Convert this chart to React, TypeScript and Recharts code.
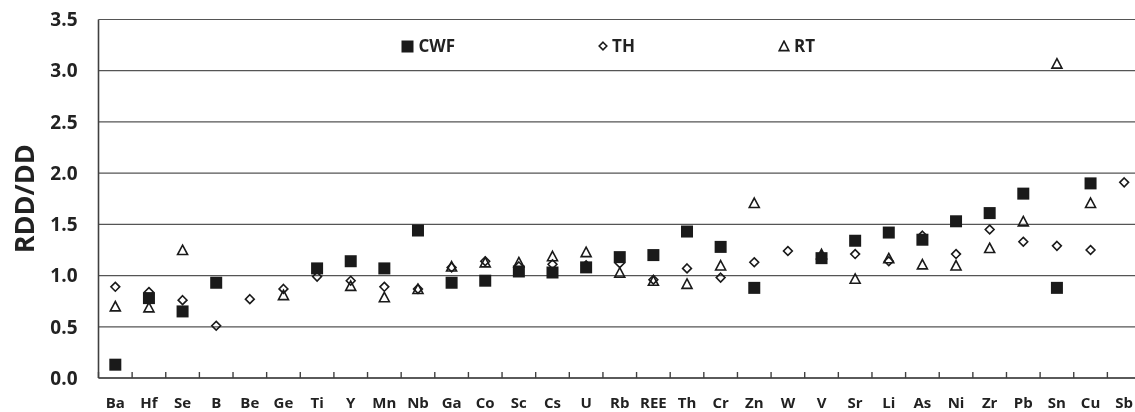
import React from 'react';
import { ScatterChart, Scatter, XAxis, YAxis, CartesianGrid, Legend } from 'recharts';

const categories = ['Ba', 'Hf', 'Se', 'B', 'Be', 'Ge', 'Ti', 'Y', 'Mn', 'Nb', 'Ga', 'Co', 'Sc', 'Cs', 'U', 'Rb', 'REE', 'Th', 'Cr', 'Zn', 'W', 'V', 'Sr', 'Li', 'As', 'Ni', 'Zr', 'Pb', 'Sn', 'Cu', 'Sb'];

const cwfValues: (number | null)[] = [0.13, 0.78, 0.65, 0.93, null, null, 1.07, 1.14, 1.07, 1.44, 0.93, 0.95, 1.04, 1.03, 1.08, 1.18, 1.2, 1.43, 1.28, 0.88, null, 1.17, 1.34, 1.42, 1.35, 1.53, 1.61, 1.8, 0.88, 1.9, null];
const thValues: (number | null)[] = [0.89, 0.84, 0.76, 0.51, 0.77, 0.87, 0.99, 0.95, 0.89, 0.87, 1.08, 1.14, 1.09, 1.11, 1.1, 1.12, 0.96, 1.07, 0.98, 1.13, 1.24, 1.19, 1.21, 1.14, 1.39, 1.21, 1.45, 1.33, 1.29, 1.25, 1.91];
const rtValues: (number | null)[] = [0.7, 0.69, 1.25, null, null, 0.81, null, 0.9, 0.79, 0.87, 1.09, 1.13, 1.13, 1.19, 1.23, 1.03, 0.95, 0.92, 1.1, 1.71, null, 1.21, 0.97, 1.17, 1.11, 1.1, 1.27, 1.53, 3.07, 1.71, null];

const yTicks = [0, 0.5, 1, 1.5, 2, 2.5, 3, 3.5];
const seriesNames = ['CWF', 'TH', 'RT'];

// boundaries (integers) carry tick marks, centres (x.5) carry category labels
const xTicks: number[] = [];
for (let i = 0; i <= categories.length; i++) {
  xTicks.push(i);
  if (i < categories.length) xTicks.push(i + 0.5);
}

const toPoints = (vals: (number | null)[]) =>
  vals
    .map((v, i) => (v == null ? null : { x: i + 0.5, y: v, name: categories[i] }))
    .filter((p) => p !== null) as { x: number; y: number; name: string }[];

const cwfData = toPoints(cwfValues);
const thData = toPoints(thValues);
const rtData = toPoints(rtValues);

const INK = '#1a1a1a';
const AXIS = '#404040';
const FONT = '"Open Sans", "DejaVu Sans", sans-serif';

const SquareShape = (props: any) => {
  const { cx, cy } = props;
  return <rect x={cx - 6} y={cy - 6} width={12} height={12} fill={INK} />;
};

const DiamondShape = (props: any) => {
  const { cx, cy } = props;
  const r = 4.4;
  return (
    <path
      d={`M${cx},${cy - r}L${cx + r},${cy}L${cx},${cy + r}L${cx - r},${cy}Z`}
      fill="none"
      stroke={INK}
      strokeWidth={1.6}
    />
  );
};

const TriangleShape = (props: any) => {
  const { cx, cy } = props;
  return (
    <path
      d={`M${cx},${cy - 4.8}L${cx + 5},${cy + 4.6}L${cx - 5},${cy + 4.6}Z`}
      fill="none"
      stroke={INK}
      strokeWidth={1.6}
    />
  );
};

const XTick = (props: any) => {
  const { x, y, payload } = props;
  const v = payload.value as number;
  if (Number.isInteger(v)) {
    return <line x1={x} x2={x} y1={y} y2={y - 6} stroke={AXIS} strokeWidth={1.4} />;
  }
  return (
    <text
      x={x}
      y={y + 30}
      textAnchor="middle"
      style={{ fontFamily: FONT, fontWeight: 700, fontSize: 15, fill: '#222' }}
    >
      {categories[Math.floor(v)]}
    </text>
  );
};

const LegendIcon = ({ kind }: { kind: string }) => {
  if (kind === 'CWF') {
    return (
      <svg width={13} height={13} style={{ display: 'block' }}>
        <rect x={0.5} y={0.5} width={12} height={12} fill={INK} />
      </svg>
    );
  }
  if (kind === 'TH') {
    return (
      <svg width={10} height={10} style={{ display: 'block' }}>
        <path d="M5,1.2L8.8,5L5,8.8L1.2,5Z" fill="none" stroke={INK} strokeWidth={1.6} />
      </svg>
    );
  }
  return (
    <svg width={12} height={12} style={{ display: 'block' }}>
      <path d="M6,1.2L10.8,10.6L1.2,10.6Z" fill="none" stroke={INK} strokeWidth={1.6} />
    </svg>
  );
};

const LegendContent = () => (
  <div style={{ display: 'flex', alignItems: 'center', fontFamily: FONT, fontWeight: 700, fontSize: 17, color: '#222', lineHeight: '20px' }}>
    {seriesNames.map((name, i) => (
      <div key={name} style={{ display: 'flex', alignItems: 'center', marginRight: i < seriesNames.length - 1 ? 143 : 0 }}>
        <LegendIcon kind={name} />
        <span style={{ marginLeft: name === 'CWF' ? 5 : 4 }}>{name}</span>
      </div>
    ))}
  </div>
);

const YLabel = (props: any) => {
  const { viewBox } = props;
  const cx = viewBox.x + 23;
  const cy = viewBox.y + viewBox.height / 2;
  return (
    <text
      x={cx}
      y={cy}
      transform={`rotate(-90, ${cx}, ${cy})`}
      textAnchor="middle"
      dominantBaseline="central"
      style={{ fontFamily: FONT, fontWeight: 700, fontSize: 27, fill: '#222' }}
    >
      RDD/DD
    </text>
  );
};

const tickStyle = { fontFamily: FONT, fontWeight: 700, fontSize: 19, fill: '#222' };

export default function App() {
  return (
    <div style={{ position: 'fixed', left: 0, top: 0, width: 1135, height: 412, overflow: 'hidden' }}>
      <ScatterChart width={1141} height={412} margin={{ top: 19.5, right: 0, bottom: 0, left: 0 }}>
        <CartesianGrid horizontal vertical={false} stroke="#555" strokeWidth={1.2} />
        <XAxis
          type="number"
          dataKey="x"
          domain={[0, categories.length]}
          ticks={xTicks}
          interval={0}
          tick={<XTick />}
          tickLine={false}
          tickSize={0}
          tickMargin={0}
          height={34}
          axisLine={{ stroke: AXIS, strokeWidth: 1.6 }}
        />
        <YAxis
          type="number"
          dataKey="y"
          domain={[0, 3.5]}
          ticks={yTicks}
          interval={0}
          tickFormatter={(v: number) => v.toFixed(1)}
          tick={tickStyle}
          tickLine={false}
          tickSize={0}
          tickMargin={21}
          width={98.5}
          axisLine={{ stroke: AXIS, strokeWidth: 1.6 }}
          label={{ content: <YLabel /> } as any}
        />
        <Legend
          layout="vertical"
          align="center"
          verticalAlign="middle"
          content={<LegendContent />}
          wrapperStyle={{ top: 36, left: 400.5, width: 600, height: 20 }}
        />
        <Scatter name="RT" data={rtData} shape={<TriangleShape />} isAnimationActive={false} />
        <Scatter name="TH" data={thData} shape={<DiamondShape />} isAnimationActive={false} />
        <Scatter name="CWF" data={cwfData} shape={<SquareShape />} isAnimationActive={false} />
      </ScatterChart>
    </div>
  );
}
